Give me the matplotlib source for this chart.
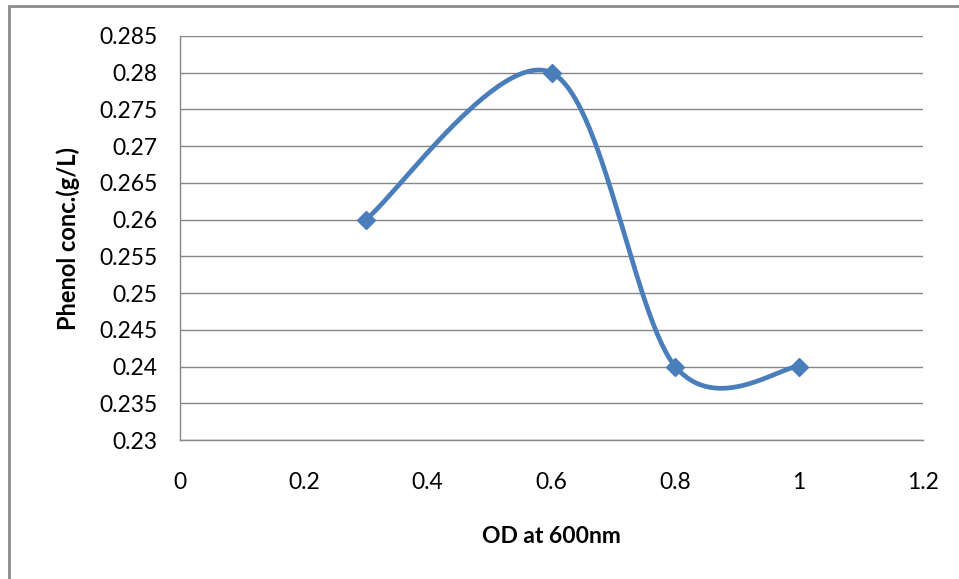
import numpy as np
import matplotlib
matplotlib.use("Agg")
import matplotlib.pyplot as plt
from matplotlib.patches import Rectangle

# ---- data ------------------------------------------------------------------
od_600 = [0.3, 0.6, 0.8, 1.0]
phenol = [0.26, 0.28, 0.24, 0.24]

x_ticks = [0, 0.2, 0.4, 0.6, 0.8, 1, 1.2]
x_tick_labels = ["0", "0.2", "0.4", "0.6", "0.8", "1", "1.2"]
y_ticks = [0.23, 0.235, 0.24, 0.245, 0.25, 0.255, 0.26, 0.265, 0.27,
           0.275, 0.28, 0.285]
y_tick_labels = ["0.23", "0.235", "0.24", "0.245", "0.25", "0.255", "0.26",
                 "0.265", "0.27", "0.275", "0.28", "0.285"]

XLIM = (0, 1.2)
YLIM = (0.23, 0.285)

C_LINE = '#4A7EBB'
C_GRID = '#868686'

plt.rcParams['font.family'] = ['Lato', 'DejaVu Sans']

fig = plt.figure(figsize=(9.59, 5.79), dpi=100)
ax = fig.add_axes([180 / 959, 1 - 440 / 579, 743 / 959, 404 / 579])


# Excel-style smoothed line: cubic Bezier through points, computed in
# screen-ish (axes pixel) space so the curve shape matches.
def excel_smooth(xs, ys, w=743.0, h=404.0, n=60):
    px = (np.asarray(xs) - XLIM[0]) / (XLIM[1] - XLIM[0]) * w
    py = (np.asarray(ys) - YLIM[0]) / (YLIM[1] - YLIM[0]) * h
    P = np.column_stack([px, py])
    P_ext = np.vstack([P[0], P, P[-1]])
    out = []
    t = np.linspace(0, 1, n)[:, None]
    for i in range(1, len(P_ext) - 2):
        p0, p1, p2, p3 = P_ext[i - 1], P_ext[i], P_ext[i + 1], P_ext[i + 2]
        c1 = p1 + (p2 - p0) / 6.0
        c2 = p2 - (p3 - p1) / 6.0
        seg = ((1 - t) ** 3) * p1 + 3 * ((1 - t) ** 2) * t * c1 \
            + 3 * (1 - t) * t ** 2 * c2 + t ** 3 * p2
        out.append(seg if i == 1 else seg[1:])
    S = np.vstack(out)
    sx = S[:, 0] / w * (XLIM[1] - XLIM[0]) + XLIM[0]
    sy = S[:, 1] / h * (YLIM[1] - YLIM[0]) + YLIM[0]
    return sx, sy


sx, sy = excel_smooth(od_600, phenol)
ax.plot(sx, sy, color=C_LINE, lw=3.4, solid_capstyle='round', zorder=3)
ax.plot(od_600, phenol, ls='none', marker='D', ms=9.5, color=C_LINE,
        mec=C_LINE, zorder=4)

ax.set_xlim(*XLIM)
ax.set_ylim(*YLIM)
ax.set_xticks(x_ticks)
ax.set_xticklabels(x_tick_labels)
ax.set_yticks(y_ticks)
ax.set_yticklabels(y_tick_labels)
ax.tick_params(axis='both', length=0, labelsize=16.5, colors='#000000')
ax.tick_params(axis='x', pad=23)
ax.tick_params(axis='y', pad=16)

ax.grid(axis='y', color=C_GRID, lw=1.0)
ax.set_axisbelow(True)
for side in ['top', 'right']:
    ax.spines[side].set_visible(False)
for side in ['left', 'bottom']:
    ax.spines[side].set_color(C_GRID)
    ax.spines[side].set_linewidth(1.0)

ax.set_xlabel('OD at 600nm', fontsize=16.5, fontweight='bold', labelpad=24)
ax.set_ylabel('Phenol conc.(g/L)', fontsize=17, fontweight='bold', labelpad=14)

# outer chart frame
fig.patches.append(Rectangle((9 / 959, -0.01), 1.0, 1 - 6 / 579 + 0.01,
                             transform=fig.transFigure, fill=False,
                             ec='#8c8c8c', lw=2.0))

fig.savefig('out.png', dpi=100)
